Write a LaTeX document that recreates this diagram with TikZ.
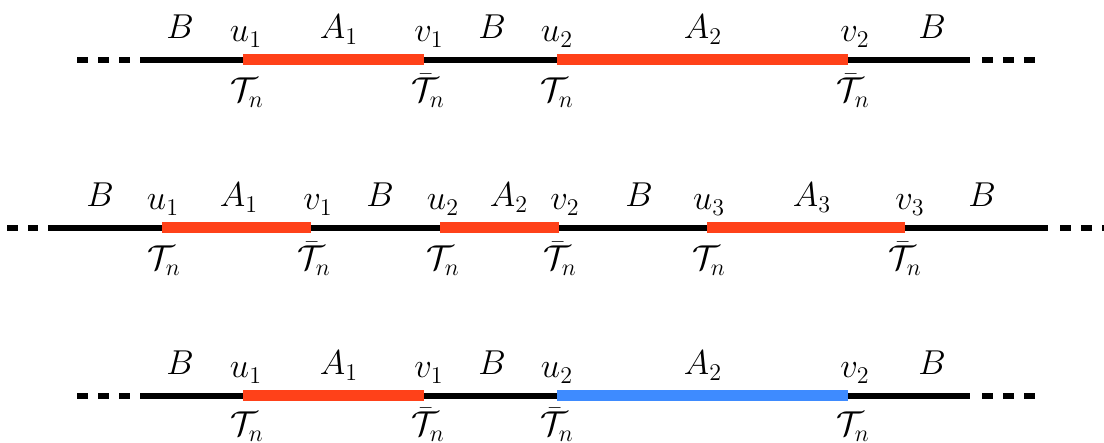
\documentclass[tikz,border=0pt]{standalone}
\usepackage{amsmath}
\definecolor{segred}{RGB}{255,65,25}
\definecolor{segblue}{RGB}{62,139,255}
\tikzset{
  baseline seg/.style={line width=2.75pt, black},
  dots seg/.style={line width=2.75pt, black, dash pattern=on 5.25pt off 5.25pt},
  red seg/.style={line width=5.5pt, segred},
  blue seg/.style={line width=5.5pt, segblue},
  lab/.style={anchor=base, inner sep=0pt, font=\fontsize{17}{20}\selectfont},
}
\begin{document}
\begin{tikzpicture}[x=0.5pt,y=-0.5pt]
\useasboundingbox (0,0) rectangle (1104,443);

% ---------- Row 1 ----------
\coordinate (a0) at (77,60);  \coordinate (a1) at (130,60);
\coordinate (as) at (140,60); \coordinate (ae) at (970,60);
\coordinate (a2) at (982,60); \coordinate (a3) at (1035,60);
\coordinate (au1) at (243,60); \coordinate (av1) at (424,60);
\coordinate (au2) at (557,60); \coordinate (av2) at (848,60);
\draw[dots seg] (a0) -- (a1);
\draw[dots seg] (a2) -- (a3);
\draw[baseline seg] (as) -- (ae);
\draw[red seg] (au1) -- (av1);
\draw[red seg] (au2) -- (av2);
\node[lab] (aB1) at (180,39) {$B$};
\node[lab] (aU1) at (246,42) {$u_1$};
\node[lab] (aA1) at (339,39) {$A_1$};
\node[lab] (aV1) at (429,42) {$v_1$};
\node[lab] (aB2) at (492,39) {$B$};
\node[lab] (aU2) at (557,42) {$u_2$};
\node[lab] (aA2) at (703,39) {$A_2$};
\node[lab] (aV2) at (855,42) {$v_2$};
\node[lab] (aB3) at (932,39) {$B$};
\node[lab] (aT1) at (247,102) {$\mathcal{T}_n$};
\node[lab] (aT2) at (428,102) {$\bar{\mathcal{T}}_n$};
\node[lab] (aT3) at (557,102) {$\mathcal{T}_n$};
\node[lab] (aT4) at (853,102) {$\bar{\mathcal{T}}_n$};

% ---------- Row 2 ----------
\coordinate (b0) at (7,228);   \coordinate (b1) at (38,228);
\coordinate (bs) at (48,228);  \coordinate (be) at (1048,228);
\coordinate (b2) at (1060,228); \coordinate (b3) at (1104,228);
\coordinate (bu1) at (162,228); \coordinate (bv1) at (311,228);
\coordinate (bu2) at (440,228); \coordinate (bv2) at (559,228);
\coordinate (bu3) at (707,228); \coordinate (bv3) at (905,228);
\draw[dots seg] (b0) -- (b1);
\draw[dots seg] (b2) -- (b3);
\draw[baseline seg] (bs) -- (be);
\draw[red seg] (bu1) -- (bv1);
\draw[red seg] (bu2) -- (bv2);
\draw[red seg] (bu3) -- (bv3);
\node[lab] (bB1) at (100,207) {$B$};
\node[lab] (bU1) at (163,210) {$u_1$};
\node[lab] (bA1) at (239,207) {$A_1$};
\node[lab] (bV1) at (318,210) {$v_1$};
\node[lab] (bB2) at (380,207) {$B$};
\node[lab] (bU2) at (443,210) {$u_2$};
\node[lab] (bA2) at (509,207) {$A_2$};
\node[lab] (bV2) at (565,210) {$v_2$};
\node[lab] (bB3) at (639,207) {$B$};
\node[lab] (bU3) at (709,210) {$u_3$};
\node[lab] (bA3) at (812,207) {$A_3$};
\node[lab] (bV3) at (910,210) {$v_3$};
\node[lab] (bB4) at (982,207) {$B$};
\node[lab] (bT1) at (164,270) {$\mathcal{T}_n$};
\node[lab] (bT2) at (314,270) {$\bar{\mathcal{T}}_n$};
\node[lab] (bT3) at (443,270) {$\mathcal{T}_n$};
\node[lab] (bT4) at (560,270) {$\bar{\mathcal{T}}_n$};
\node[lab] (bT5) at (709,270) {$\mathcal{T}_n$};
\node[lab] (bT6) at (905,270) {$\bar{\mathcal{T}}_n$};

% ---------- Row 3 ----------
\coordinate (c0) at (77,396);  \coordinate (c1) at (130,396);
\coordinate (cs) at (140,396); \coordinate (ce) at (970,396);
\coordinate (c2) at (982,396); \coordinate (c3) at (1035,396);
\coordinate (cu1) at (243,396); \coordinate (cv1) at (424,396);
\coordinate (cu2) at (557,396); \coordinate (cv2) at (848,396);
\draw[dots seg] (c0) -- (c1);
\draw[dots seg] (c2) -- (c3);
\draw[baseline seg] (cs) -- (ce);
\draw[red seg] (cu1) -- (cv1);
\draw[blue seg] (cu2) -- (cv2);
\node[lab] (cB1) at (180,375) {$B$};
\node[lab] (cU1) at (246,378) {$u_1$};
\node[lab] (cA1) at (339,375) {$A_1$};
\node[lab] (cV1) at (429,378) {$v_1$};
\node[lab] (cB2) at (492,375) {$B$};
\node[lab] (cU2) at (557,378) {$u_2$};
\node[lab] (cA2) at (703,375) {$A_2$};
\node[lab] (cV2) at (855,378) {$v_2$};
\node[lab] (cB3) at (932,375) {$B$};
\node[lab] (cT1) at (247,436) {$\mathcal{T}_n$};
\node[lab] (cT2) at (428,436) {$\bar{\mathcal{T}}_n$};
\node[lab] (cT3) at (557,436) {$\bar{\mathcal{T}}_n$};
\node[lab] (cT4) at (853,436) {$\mathcal{T}_n$};
\end{tikzpicture}
\end{document}
